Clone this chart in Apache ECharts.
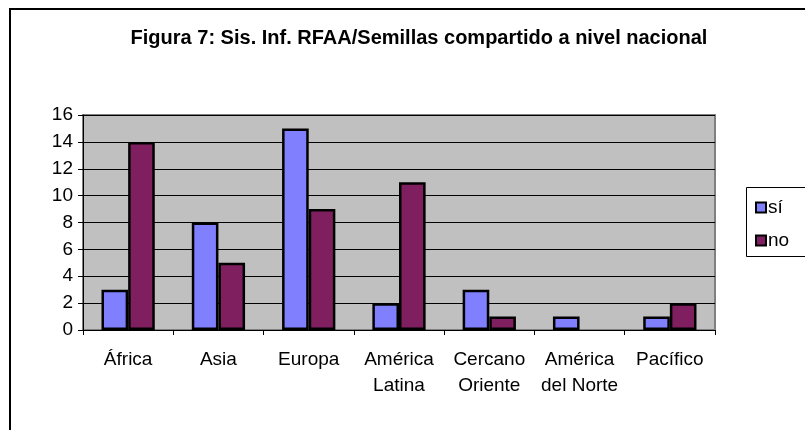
<!DOCTYPE html>
<html>
<head>
<meta charset="utf-8">
<script src="https://cdn.jsdelivr.net/npm/echarts@6/dist/echarts.min.js"></script>
<style>
  html, body { margin: 0; padding: 0; background: #fff; }
  #chart { width: 805px; height: 430px; }
</style>
</head>
<body>
<div id="chart"></div>
<script>
// datos
const regiones = ["África", "Asia", "Europa", "América\nLatina", "Cercano\nOriente", "América\ndel Norte", "Pacífico"];
const si = [3, 8, 15, 2, 3, 1, 1];
const no = [14, 5, 9, 11, 1, 0, 2];
const fuente = '"Liberation Sans", Arial, sans-serif';

// las barras de valor 0 no se dibujan con borde en el original
const conBorde = v => (v === 0 ? { value: v, itemStyle: { borderWidth: 0 } } : v);

const chart = echarts.init(document.getElementById("chart"));

const option = {
  backgroundColor: "#fff",
  animation: false,
  textStyle: { fontFamily: fuente },
  title: {
    text: "Figura 7: Sis. Inf. RFAA/Semillas compartido a nivel nacional",
    left: 414,
    textAlign: "center",
    top: 23,
    textStyle: { fontSize: 20, fontWeight: "bold", color: "#000", fontFamily: fuente }
  },
  graphic: [
    {
      // marco del grafico (recortado por la derecha y abajo)
      type: "rect",
      shape: { x: 10, y: 9, width: 900, height: 500 },
      style: { fill: "none", stroke: "#000", lineWidth: 2 },
      silent: true
    },
    {
      // caja de la leyenda
      type: "rect",
      shape: { x: 746.5, y: 187.5, width: 100, height: 69 },
      style: { fill: "#fff", stroke: "#000", lineWidth: 1 },
      z: -1,
      silent: true
    }
  ],
  legend: {
    orient: "vertical",
    left: 750,
    top: 193,
    itemWidth: 10,
    itemHeight: 10,
    itemGap: 14,
    icon: "rect",
    textStyle: { fontSize: 19, color: "#000", fontFamily: fuente, padding: [0, 0, 0, -3] },
    data: [
      { name: "sí", itemStyle: { color: "#8080FF", borderColor: "#000", borderWidth: 2 } },
      { name: "no", itemStyle: { color: "#7F1F5F", borderColor: "#000", borderWidth: 2 } }
    ]
  },
  grid: {
    left: 83,
    top: 115,
    width: 632,
    height: 215,
    show: true,
    backgroundColor: "#C0C0C0",
    borderColor: "#808080",
    borderWidth: 2
  },
  xAxis: {
    type: "category",
    data: regiones,
    axisLine: { lineStyle: { color: "#000", width: 1 } },
    axisTick: { show: true, length: 5, lineStyle: { color: "#000" } },
    axisLabel: { fontSize: 19, color: "#000", margin: 17, lineHeight: 26, interval: 0 }
  },
  yAxis: {
    type: "value",
    min: 0,
    max: 16,
    interval: 2,
    axisLine: { show: true, lineStyle: { color: "#000", width: 1 } },
    axisTick: { show: true, length: 5, lineStyle: { color: "#000" } },
    axisLabel: { fontSize: 19, color: "#000", margin: 10 },
    splitLine: { lineStyle: { color: "#000", width: 1 } }
  },
  series: [
    {
      name: "sí",
      type: "bar",
      data: si.map(conBorde),
      barGap: "0%",
      barCategoryGap: "41%",
      itemStyle: { color: "#8080FF", borderColor: "#000", borderWidth: 2.5 }
    },
    {
      name: "no",
      type: "bar",
      data: no.map(conBorde),
      itemStyle: { color: "#7F1F5F", borderColor: "#000", borderWidth: 2.5 }
    }
  ]
};

chart.setOption(option);
</script>
</body>
</html>
